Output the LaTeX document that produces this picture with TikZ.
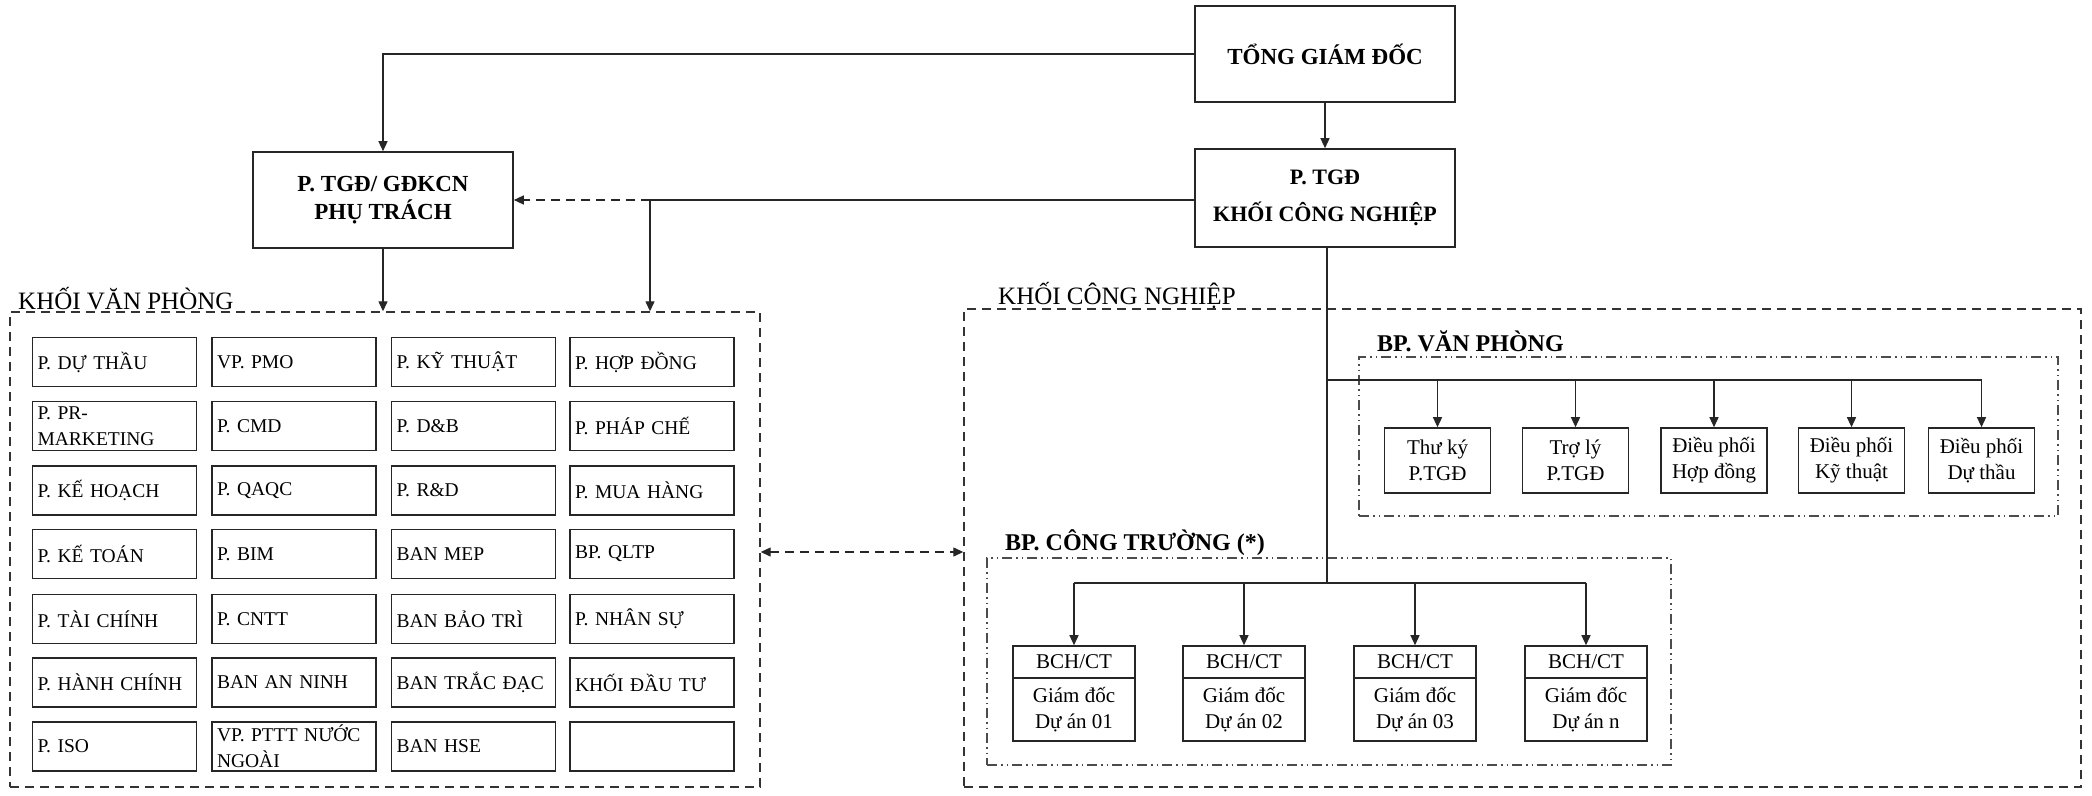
\documentclass[tikz,border=0pt]{standalone}
\usepackage{fontspec}
\setmainfont{Liberation Serif}
\usetikzlibrary{arrows.meta}
\begin{document}
\begin{tikzpicture}[x=1pt,y=-1pt,
  line/.style={draw=black!85,line width=1.3pt},
  arr/.style={line,-{Triangle[length=10pt,width=9pt]}},
  topbox/.style={draw=black!85,line width=1.6pt,minimum width=260pt,minimum height=96pt,align=center,font=\fontsize{23}{28}\selectfont\bfseries,inner sep=0pt},
  cell/.style={draw=black!85,line width=1.6pt,minimum width=164pt,minimum height=49pt,text width=154pt,inner xsep=5pt,inner ysep=0pt,align=left,font=\fontsize{19.5}{26}\selectfont},
  sub/.style={draw=black!85,line width=1.6pt,minimum width=106pt,minimum height=65pt,inner sep=0pt,align=center,font=\fontsize{21}{26}\selectfont},
  bcht/.style={draw=black!85,line width=1.6pt,minimum width=122pt,minimum height=32pt,inner sep=0pt,align=center,font=\fontsize{21}{26}\selectfont},
  bchb/.style={draw=black!85,line width=1.6pt,minimum width=122pt,minimum height=63pt,inner sep=0pt,align=center,font=\fontsize{21}{26}\selectfont},
  group/.style={draw=black!80,line width=1.4pt,dash pattern=on 9pt off 6pt,inner sep=0pt},
  subgroup/.style={draw=black!70,line width=1.2pt,dash pattern=on 10pt off 4pt on 1.5pt off 4pt on 1.5pt off 4pt,inner sep=0pt},
  head/.style={anchor=west,inner sep=0pt,font=\fontsize{25}{30}\selectfont},
  bhead/.style={anchor=west,inner sep=0pt,font=\fontsize{24}{29}\selectfont\bfseries},
]
\useasboundingbox[fill=white] (0,0) rectangle (2092,795);

% top level
\node[topbox] (tgd) at (1325,54) {TỔNG GIÁM ĐỐC};
\node[topbox,minimum height=98pt,font=\fontsize{22}{37}\selectfont\bfseries] (kcn) at (1325,198) {P. TGĐ\\KHỐI CÔNG NGHIỆP};
\node[topbox] (ptgd) at (383,200) {P. TGĐ/ GĐKCN\\PHỤ TRÁCH};

% groups
\node[group,minimum width=750pt,minimum height=475pt] (kvp) at (385,549.5) {};
\node[group,minimum width=1117pt,minimum height=478pt] (kcnb) at (1522.5,548) {};
\node[subgroup,minimum width=699pt,minimum height=159pt] (bpvp) at (1708.5,436.5) {};
\node[subgroup,minimum width=684pt,minimum height=207pt] (bpct) at (1329,661.5) {};

\node[head] (lkvp) at (18,299) {KHỐI VĂN PHÒNG};
\node[head] (lkcn) at (998,295) {KHỐI CÔNG NGHIỆP};
\node[bhead] (lbpvp) at (1377,341) {BP. VĂN PHÒNG};
\node[bhead] (lbpct) at (1005,543) {BP. CÔNG TRƯỜNG (*)};

% office grid
\node[cell] (c11) at (114.5,362) {P. DỰ THẦU};
\node[cell] (c12) at (294,362) {VP. PMO};
\node[cell] (c13) at (473.5,362) {P. KỸ THUẬT};
\node[cell] (c14) at (652,362) {P. HỢP ĐỒNG};
\node[cell] (c21) at (114.5,426) {P. PR-\\MARKETING};
\node[cell] (c22) at (294,426) {P. CMD};
\node[cell] (c23) at (473.5,426) {P. D\&B};
\node[cell] (c24) at (652,426) {P. PHÁP CHẾ};
\node[cell] (c31) at (114.5,490.5) {P. KẾ HOẠCH};
\node[cell] (c32) at (294,490.5) {P. QAQC};
\node[cell] (c33) at (473.5,490.5) {P. R\&D};
\node[cell] (c34) at (652,490.5) {P. MUA HÀNG};
\node[cell] (c41) at (114.5,554) {P. KẾ TOÁN};
\node[cell] (c42) at (294,554) {P. BIM};
\node[cell] (c43) at (473.5,554) {BAN MEP};
\node[cell] (c44) at (652,554) {BP. QLTP};
\node[cell] (c51) at (114.5,619) {P. TÀI CHÍNH};
\node[cell] (c52) at (294,619) {P. CNTT};
\node[cell] (c53) at (473.5,619) {BAN BẢO TRÌ};
\node[cell] (c54) at (652,619) {P. NHÂN SỰ};
\node[cell] (c61) at (114.5,682.5) {P. HÀNH CHÍNH};
\node[cell] (c62) at (294,682.5) {BAN AN NINH};
\node[cell] (c63) at (473.5,682.5) {BAN TRẮC ĐẠC};
\node[cell] (c64) at (652,682.5) {KHỐI ĐẦU TƯ};
\node[cell] (c71) at (114.5,746.5) {P. ISO};
\node[cell] (c72) at (294,746.5) {VP. PTTT NƯỚC\\NGOÀI};
\node[cell] (c73) at (473.5,746.5) {BAN HSE};
\node[cell] (c74) at (652,746.5) {};

% BP van phong boxes
\node[sub] (v1) at (1437.5,460.5) {Thư ký\\P.TGĐ};
\node[sub] (v2) at (1575.5,460.5) {Trợ lý\\P.TGĐ};
\node[sub] (v3) at (1714,460.5) {Điều phối\\Hợp đồng};
\node[sub] (v4) at (1851.5,460.5) {Điều phối\\Kỹ thuật};
\node[sub] (v5) at (1981.5,460.5) {Điều phối\\Dự thầu};

% BCH boxes
\node[bcht] (b1t) at (1074,662) {BCH/CT};
\node[bchb] (b1b) at (1074,709.5) {Giám đốc\\Dự án 01};
\node[bcht] (b2t) at (1244,662) {BCH/CT};
\node[bchb] (b2b) at (1244,709.5) {Giám đốc\\Dự án 02};
\node[bcht] (b3t) at (1415,662) {BCH/CT};
\node[bchb] (b3b) at (1415,709.5) {Giám đốc\\Dự án 03};
\node[bcht] (b4t) at (1586,662) {BCH/CT};
\node[bchb] (b4b) at (1586,709.5) {Giám đốc\\Dự án n};

% connectors
\draw[arr] (tgd.west) -| (ptgd.north);
\draw[arr] (tgd.south) -- (kcn.north);
\coordinate (j1) at (650,200);
\draw[line] (kcn.west |- j1) -- (j1);
\draw[line,dash pattern=on 9pt off 6pt,-{Triangle[length=10pt,width=9pt]}] (j1) -- (ptgd.east);
\draw[arr] (j1) -- (j1 |- kvp.north);
\draw[arr] (ptgd.south) -- (ptgd.south |- kvp.north);

\coordinate (jv) at (1327,380);
\coordinate (jc) at (1327,583);
\draw[line] (kcn.south -| jv) -- (jc);
\draw[line] (jv) -- (v5.north |- jv);
\foreach \n in {v1,v2,v3,v4,v5} \draw[arr] (\n.north |- jv) -- (\n.north);
\draw[line] (b1t.north |- jc) -- (b4t.north |- jc);
\foreach \n in {b1t,b2t,b3t,b4t} \draw[arr] (\n.north |- jc) -- (\n.north);

\coordinate (dl) at (760,552);
\coordinate (dr) at (963,552);
\draw[line,dash pattern=on 9pt off 6pt,{Triangle[length=10pt,width=9pt]}-{Triangle[length=10pt,width=9pt]}] (kvp.east |- dl) -- (kcnb.west |- dr);
\end{tikzpicture}
\end{document}
